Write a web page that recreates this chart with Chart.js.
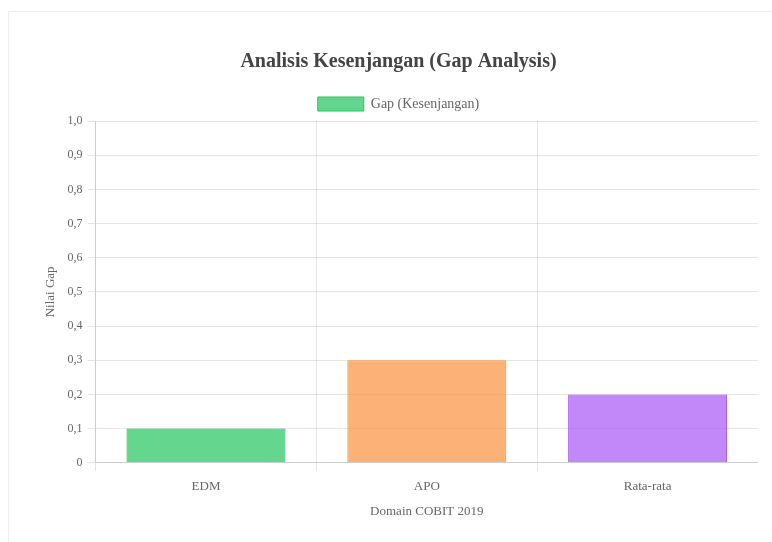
<html>
<head>
    <style>
        body { margin: 0; background: #fff; }
        #card {
            position: absolute;
            left: 8px;
            top: 11px;
            width: 780px;
            height: 560px;
            border: 1px solid #eee;
        }
        #chartContainer {
            position: absolute;
            left: 39px;
            top: 40px;
            width: 719px;
            height: 483px;
        }
    </style>
</head>
<body>
    <div id="card"></div>
    <div id="chartContainer">
        <canvas id="myChart"></canvas>
    </div>

<script src="https://cdn.jsdelivr.net/npm/chart.js@4.4.0/dist/chart.umd.min.js"></script>
<script>
    // data
    var domains = ['EDM', 'APO', 'Rata-rata'];
    var gapValues = [0.1, 0.3, 0.2];
    var barColors = ['rgba(34, 197, 94, 0.7)', 'rgba(251, 146, 60, 0.7)', 'rgba(168, 85, 247, 0.7)'];
    var borderColors = ['rgb(34, 197, 94)', 'rgb(251, 146, 60)', 'rgb(168, 85, 247)'];

    Chart.defaults.font.family = "'Liberation Serif', 'DejaVu Serif', serif";
    Chart.defaults.color = '#666';

    var ctx = document.getElementById('myChart').getContext('2d');
    var myChart = new Chart(ctx, {
        type: 'bar',
        data: {
            labels: domains,
            datasets: [{
                label: 'Gap (Kesenjangan)',
                data: gapValues,
                backgroundColor: barColors,
                borderColor: borderColors,
                borderWidth: 1
            }]
        },
        options: {
            animation: false,
            maintainAspectRatio: false,
            locale: 'id-ID',
            plugins: {
                title: {
                    display: true,
                    text: 'Analisis Kesenjangan (Gap Analysis)',
                    font: { size: 20, weight: 'bold' },
                    color: '#444',
                    padding: { top: 10, bottom: 12 }
                },
                legend: {
                    labels: { font: { size: 14 }, boxWidth: 46, boxHeight: 14, padding: 11 }
                }
            },
            scales: {
                y: {
                    beginAtZero: true,
                    max: 1,
                    ticks: { stepSize: 0.1, padding: 5 },
                    title: { display: true, text: 'Nilai Gap', font: { size: 13 } }
                },
                x: {
                    ticks: { padding: 8, font: { size: 13 } },
                    title: { display: true, text: 'Domain COBIT 2019', font: { size: 13 }, padding: { top: 1, bottom: 4 } }
                }
            }
        }
    });
</script>
</body>
</html>
